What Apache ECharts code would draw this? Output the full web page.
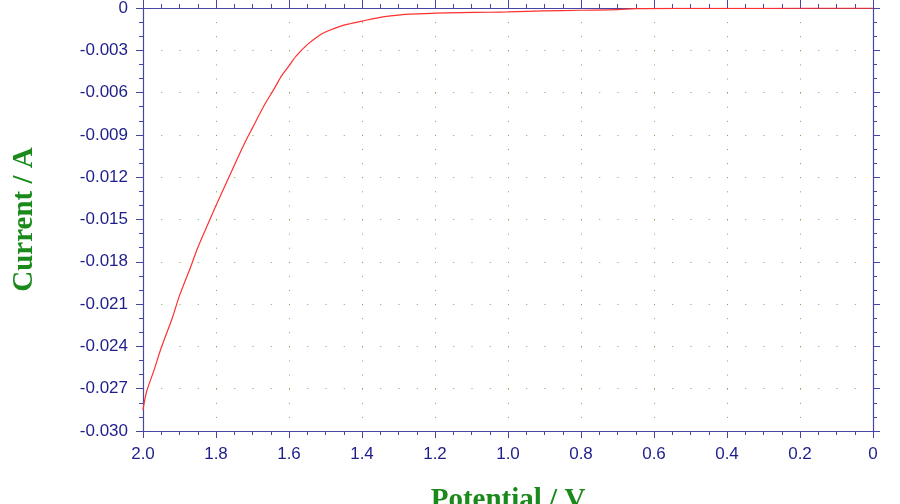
<!DOCTYPE html>
<html>
<head>
<meta charset="utf-8">
<script src="https://cdn.jsdelivr.net/npm/echarts@6/dist/echarts.min.js"></script>
<style>
  html, body { margin: 0; padding: 0; background: #fff; }
  #chart { width: 900px; height: 504px; }
</style>
</head>
<body>
<div id="chart"></div>
<script>
// potential (V), scan runs from 2.0 down to 0
var potential = [2.000, 1.990, 1.970, 1.950, 1.920, 1.900, 1.870, 1.850, 1.820, 1.800,
  1.770, 1.740, 1.720, 1.700, 1.670, 1.640, 1.620, 1.600, 1.580, 1.550,
  1.520, 1.500, 1.460, 1.430, 1.400, 1.350, 1.300, 1.270, 1.200, 1.130,
  1.050, 1.000, 0.900, 0.800, 0.700, 0.650, 0.500, 0.300, 0.000];
// current (A)
var current = [-0.0285, -0.0272, -0.0257, -0.0241, -0.0220, -0.0204, -0.0184, -0.0170, -0.0152, -0.0140,
  -0.0123, -0.0106, -0.0095, -0.0085, -0.0070, -0.0057, -0.0048, -0.0041, -0.0034, -0.0026,
  -0.0020, -0.0017, -0.0013, -0.0011, -0.00093, -0.00066, -0.00050, -0.00043, -0.00037, -0.00033,
  -0.00030, -0.00028, -0.00021, -0.00016, -0.00012, -0.00005, -0.00003, -0.00002, -0.00001];

var axisColor = '#4646a6';
var labelColor = '#1e1e8a';
var titleColor = '#1a8a1a';
var dotColor = '#6fb44a';

var myChart = echarts.init(document.getElementById('chart'));

var points = potential.map(function (v, i) { return [v, current[i]]; });

var option = {
  backgroundColor: '#ffffff',
  animation: false,
  grid: { left: 143, right: 27, top: 8, bottom: 73, outerBoundsMode: 'none', containLabel: false },
  xAxis: [
    {
      type: 'value',
      min: 0, max: 2, interval: 0.2, inverse: true,
      name: 'Potential / V',
      nameLocation: 'middle',
      nameGap: 55,
      nameTextStyle: { color: titleColor, fontFamily: 'Liberation Serif', fontWeight: 'bold', fontSize: 29 },
      axisLine: { onZero: false, lineStyle: { color: axisColor, width: 1.2 } },
      axisTick: { length: 7, lineStyle: { color: axisColor } },
      minorTick: { show: true, splitNumber: 4, length: 4, lineStyle: { color: axisColor } },
      axisLabel: {
        color: labelColor, fontFamily: 'Liberation Sans', fontSize: 17, margin: 15,
        formatter: function (v) { return v === 0 ? '0' : v.toFixed(1); }
      },
      splitLine: { show: true, lineStyle: { color: dotColor, width: 1, type: [1, 13.1] } }
    },
    {
      type: 'value', position: 'top',
      min: 0, max: 2, interval: 0.2, inverse: true,
      axisLine: { onZero: false, lineStyle: { color: axisColor, width: 1.2 } },
      axisTick: { length: 8, lineStyle: { color: axisColor } },
      minorTick: { show: true, splitNumber: 4, length: 4, lineStyle: { color: axisColor } },
      axisLabel: { show: false },
      splitLine: { show: false }
    }
  ],
  yAxis: [
    {
      type: 'value',
      min: -0.03, max: 0, interval: 0.003,
      name: 'Current / A',
      nameLocation: 'middle',
      nameGap: 104,
      nameTextStyle: { color: titleColor, fontFamily: 'Liberation Serif', fontWeight: 'bold', fontSize: 29 },
      axisLine: { onZero: false, lineStyle: { color: axisColor, width: 1.2 } },
      axisTick: { length: 7, lineStyle: { color: axisColor } },
      minorTick: { show: true, splitNumber: 3, length: 4, lineStyle: { color: axisColor } },
      axisLabel: {
        color: labelColor, fontFamily: 'Liberation Sans', fontSize: 17, margin: 15,
        formatter: function (v) { return v === 0 ? '0' : v.toFixed(3); }
      },
      splitLine: { show: true, lineStyle: { color: dotColor, width: 1, type: [1, 17.25] } }
    },
    {
      type: 'value', position: 'right',
      min: -0.03, max: 0, interval: 0.003,
      axisLine: { onZero: false, lineStyle: { color: axisColor, width: 1.2 } },
      axisTick: { length: 7, lineStyle: { color: axisColor } },
      minorTick: { show: true, splitNumber: 3, length: 4, lineStyle: { color: axisColor } },
      axisLabel: { show: false },
      splitLine: { show: false }
    }
  ],
  series: [
    {
      type: 'line',
      xAxisIndex: 0,
      yAxisIndex: 0,
      data: points,
      showSymbol: false,
      smooth: 0.3,
      lineStyle: { color: '#ff3030', width: 1.2 }
    }
  ]
};

myChart.setOption(option);
</script>
</body>
</html>
